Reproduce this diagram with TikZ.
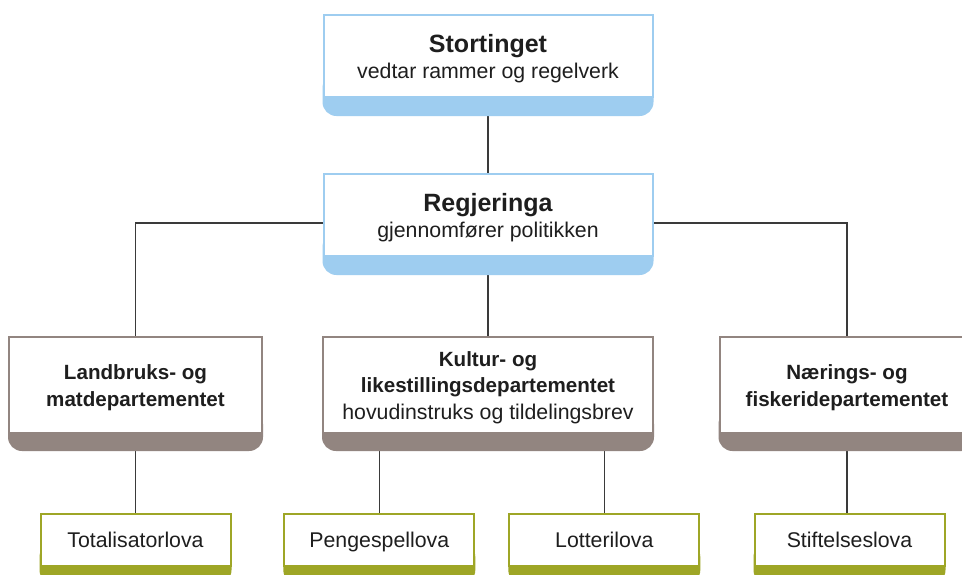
\documentclass[tikz,border=0pt]{standalone}
\usepackage{fontspec}
\setmainfont{Liberation Sans}
\usetikzlibrary{backgrounds,calc}
\definecolor{bandblue}{HTML}{9ECDF0}
\definecolor{bandbrown}{HTML}{928580}
\definecolor{bandolive}{HTML}{9EA626}
\definecolor{txt}{HTML}{1E1E1E}
\definecolor{linecol}{HTML}{3A3A3A}
\tikzset{
  orgbox/.style={rectangle, draw=#1, line width=2, fill=white, inner sep=0, anchor=north},
  boxtext/.style={inner sep=0, align=center, text=txt, font=\fontsize{21.3}{26.5}\selectfont},
  onelinetext/.style={boxtext, text height=15.3, text depth=0},
  conn/.style={draw=linecol, line width=1.1},
}
% #1 name, #2 cx, #3 top, #4 width, #5 white height, #6 band, #7 colour, #8 text style, #9 text
\newcommand\orgbox[9]{%
  \fill[#7, rounded corners=14] ({#2-#4/2-1},{#3+#5-22}) rectangle ({#2+#4/2+1},{#3+#5+#6});
  \node[orgbox=#7, minimum width=#4, minimum height=#5] (#1) at (#2,#3) {};
  \node[#8] (#1-t) at (#1.center) {#9};
}
\newcommand\ttl[1]{{\fontsize{25}{26.5}\selectfont\bfseries #1}}
\newcommand\mtl[1]{{\fontsize{20.6}{26.5}\selectfont\bfseries #1}}
\begin{document}
\begin{tikzpicture}[x=1pt,y=-1pt]
\useasboundingbox (0,0) rectangle (962,574);
\clip (0,0) rectangle (962,574);

\orgbox{stort}{488}{14}{329}{82}{20}{bandblue}{boxtext, yshift=-2.5}{\ttl{Stortinget}\\ vedtar rammer og regelverk}
\orgbox{regj}{488}{173}{329}{82}{20}{bandblue}{boxtext, yshift=-2.5}{\ttl{Regjeringa}\\ gjennomfører politikken}

\orgbox{landb}{135.5}{336}{253}{96}{19}{bandbrown}{boxtext, yshift=-2.5}{\mtl{Landbruks- og}\\ \mtl{matdepartementet}}
\orgbox{kultur}{488}{336}{330}{96}{19}{bandbrown}{boxtext, yshift=-2.5}{\mtl{Kultur- og}\\ \mtl{likestillingsdepartementet}\\ hovudinstruks og tildelingsbrev}
\orgbox{naer}{847}{336}{255}{96}{19}{bandbrown}{boxtext, yshift=-2.5}{\mtl{Nærings- og}\\ \mtl{fiskeridepartementet}}

\orgbox{total}{135.5}{513}{190}{52}{19}{bandolive}{onelinetext}{Totalisatorlova}
\orgbox{penge}{379.3}{513}{190}{52}{19}{bandolive}{onelinetext}{Pengespellova}
\orgbox{lott}{604.3}{513}{190}{52}{19}{bandolive}{onelinetext}{Lotterilova}
\orgbox{stift}{849.5}{513}{190}{52}{19}{bandolive}{onelinetext}{Stiftelseslova}

\begin{scope}[on background layer]
  \fill[white] (0,0) rectangle (962,574);
  \coordinate (hub) at (487.5,223);
  \path[conn] (stort) -- (regj);
  \path[conn] (regj) -- (kultur);
  \path[conn] (landb.north) |- (hub) -| (naer.north);
  \path[conn] (landb) -- (total);
  \path[conn] (penge.north) -- (penge.north |- kultur.south);
  \path[conn] (lott.north) -- (lott.north |- kultur.south);
  \path[conn] (naer.south) -- (naer.south |- stift.north);
\end{scope}
\end{tikzpicture}
\end{document}
